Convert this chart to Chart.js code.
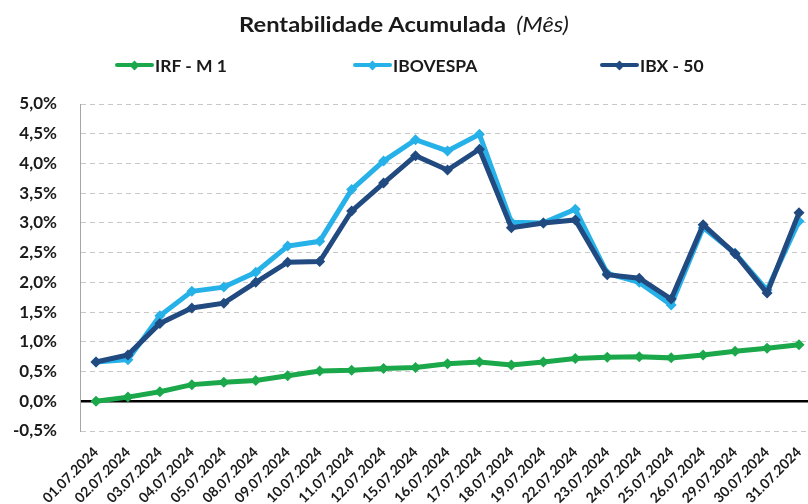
<!DOCTYPE html>
<html>
<head>
<meta charset="utf-8">
<script src="https://cdn.jsdelivr.net/npm/chart.js@4.4.1/dist/chart.umd.min.js"></script>
<style>
  html, body { margin: 0; padding: 0; background: #fff; overflow: hidden; width: 808px; height: 504px; }
  #wrap { position: relative; width: 824px; height: 504px; }
  #title { position: absolute; left: 239px; top: 11px; font-family: Lato, "Open Sans", sans-serif; font-size: 21px; color: #1a1a1a; white-space: nowrap; transform: scaleX(1.13); transform-origin: left center; }
  #title b { font-weight: 700; }
  #title i { font-weight: 400; font-style: italic; margin-left: 9px; }
  .leg { position: absolute; top: 55px; height: 20px; display: flex; align-items: center; font-family: Lato, "Open Sans", sans-serif; font-weight: 700; font-size: 17.5px; color: #1a1a1a; white-space: nowrap; }
  .mk { position: relative; width: 39px; height: 20px; margin-right: 1px; }
  .mk .ln { position: absolute; left: 0; right: 0; top: 8px; height: 4px; border-radius: 2px; }
  .mk .dm { position: absolute; left: 16px; top: 6.5px; width: 7px; height: 7px; transform: rotate(45deg); }
</style>
</head>
<body>
<div id="wrap">
  <canvas id="c" width="824" height="504"></canvas>
  <div id="title"><b>Rentabilidade Acumulada</b><i>(Mês)</i></div>
  <div id="legend"></div>
</div>
<script>
const labels = ['01.07.2024','02.07.2024','03.07.2024','04.07.2024','05.07.2024','08.07.2024','09.07.2024','10.07.2024','11.07.2024','12.07.2024','15.07.2024','16.07.2024','17.07.2024','18.07.2024','19.07.2024','22.07.2024','23.07.2024','24.07.2024','25.07.2024','26.07.2024','29.07.2024','30.07.2024','31.07.2024'];
const irfM1 = [0.00, 0.07, 0.16, 0.28, 0.32, 0.35, 0.43, 0.51, 0.52, 0.55, 0.57, 0.63, 0.66, 0.61, 0.66, 0.72, 0.74, 0.75, 0.73, 0.78, 0.84, 0.89, 0.95];
const ibovespa = [0.66, 0.70, 1.44, 1.85, 1.92, 2.17, 2.61, 2.69, 3.56, 4.04, 4.40, 4.21, 4.49, 3.01, 3.00, 3.23, 2.15, 2.00, 1.62, 2.92, 2.49, 1.87, 3.03];
const ibx50 = [0.66, 0.78, 1.31, 1.57, 1.65, 2.00, 2.34, 2.35, 3.20, 3.67, 4.13, 3.89, 4.24, 2.92, 3.00, 3.05, 2.13, 2.07, 1.72, 2.97, 2.48, 1.82, 3.17];
const seriesNames = ['IRF - M 1', 'IBOVESPA', 'IBX - 50'];
const seriesColors = ['#1aa84b', '#27b1e9', '#214a80'];
const yMin = -0.5, yMax = 5.0, yStep = 0.5;

// HTML legend
const legPos = [115, 353, 600];
const legend = document.getElementById('legend');
seriesNames.forEach((n, i) => {
  const d = document.createElement('div');
  d.className = 'leg';
  d.style.left = legPos[i] + 'px';
  d.innerHTML = '<div class="mk"><div class="ln" style="background:' + seriesColors[i] + '"></div><div class="dm" style="background:' + seriesColors[i] + '"></div></div><span>' + n + '</span>';
  legend.appendChild(d);
});

function ds(label, data, color, order) {
  return {
    label, data, order,
    borderColor: color, backgroundColor: color,
    borderWidth: 5, tension: 0,
    pointStyle: 'rectRot', pointRadius: 5.5, pointHoverRadius: 5.5,
    pointBorderWidth: 0, pointBackgroundColor: color
  };
}

new Chart(document.getElementById('c'), {
  type: 'line',
  data: {
    labels,
    datasets: [
      ds(seriesNames[0], irfM1, seriesColors[0], 0),
      ds(seriesNames[1], ibovespa, seriesColors[1], 2),
      ds(seriesNames[2], ibx50, seriesColors[2], 1)
    ]
  },
  options: {
    responsive: false,
    animation: false,
    devicePixelRatio: 1,
    layout: { padding: { top: 104, right: 5, left: 0, bottom: 0 } },
    plugins: { legend: { display: false }, title: { display: false }, tooltip: { enabled: false } },
    scales: {
      x: {
        offset: true,
        grid: { display: false, drawTicks: false },
        border: { display: false },
        afterFit: s => { s.height = 73; },
        ticks: {
          autoSkip: false, maxRotation: 45, minRotation: 45, padding: 13,
          color: '#1a1a1a',
          font: { family: 'Lato', weight: 'bold', size: 14 }
        }
      },
      y: {
        min: yMin, max: yMax,
        afterFit: s => { s.width = 80; },
        grid: {
          drawTicks: false,
          color: c => (c.tick && Math.abs(c.tick.value) < 1e-9) ? '#000000' : '#c8c8c8',
          lineWidth: c => (c.tick && Math.abs(c.tick.value) < 1e-9) ? 2.5 : 1
        },
        border: {
          display: true, color: '#a6a6a6', width: 1,
          dash: c => (c.tick && Math.abs(c.tick.value) > 1e-9) ? [5, 4] : []
        },
        ticks: {
          stepSize: yStep, padding: 23,
          color: '#1a1a1a',
          font: { family: 'Lato', weight: 'bold', size: 17 },
          callback: v => v.toFixed(1).replace('.', ',') + '%'
        }
      }
    }
  }
});
</script>
</body>
</html>
